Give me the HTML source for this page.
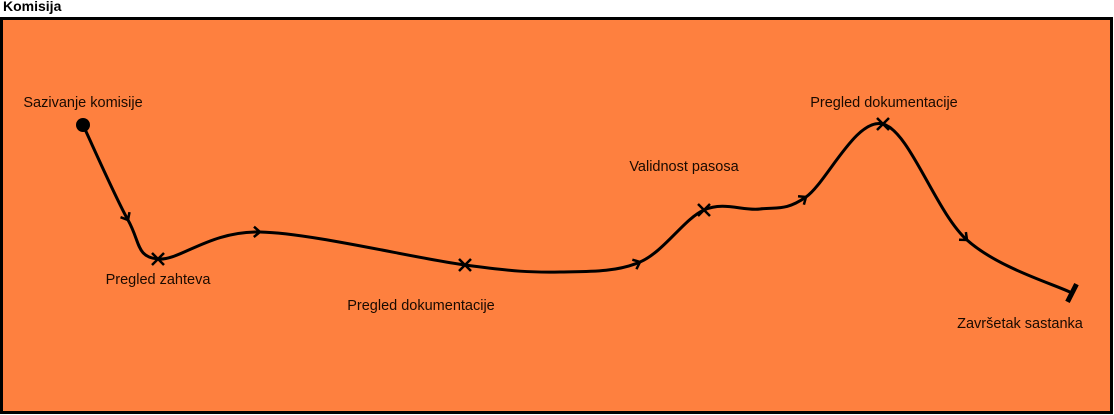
<!DOCTYPE html>
<html><head><meta charset="utf-8"><style>
body{margin:0;width:1114px;height:415px;background:#fff;overflow:hidden;font-family:"Liberation Sans",sans-serif}
#title{position:absolute;left:3px;top:-2px;font-weight:bold;font-size:14px}
svg{position:absolute;left:0;top:0}
</style></head><body>
<div id="title">Komisija</div>
<svg width="1114" height="415" id="chart">
<rect x="1.5" y="18.5" width="1110" height="394" fill="#fe803f" stroke="#000" stroke-width="3"/>
</svg>
<script>
const pathX=[83,128,158,260,465,560,640,704,760,806,883,967,1072];
const pathY=[125,220,259,232,265,272,262,210,209,197,124,240,293];
const arrowIdx=[1,3,6,9,11];
const crossIdx=[2,4,7,10];
const labels=["Sazivanje komisije","Pregled zahteva","Pregled dokumentacije","Validnost pasosa","Pregled dokumentacije","Završetak sastanka"];
const labelX=[83,158,421,684,884,1020];
const labelY=[107,284,310,171,107,328];
const svg=document.getElementById('chart');const NS='http://www.w3.org/2000/svg';
function mk(t,a){const e=document.createElementNS(NS,t);for(const k in a)e.setAttribute(k,a[k]);svg.appendChild(e);return e;}
let d='M'+pathX[0]+','+pathY[0];
for(let i=0;i<pathX.length-1;i++){
 const p0=[pathX[Math.max(i-1,0)],pathY[Math.max(i-1,0)]],p1=[pathX[i],pathY[i]],p2=[pathX[i+1],pathY[i+1]],p3=[pathX[Math.min(i+2,pathX.length-1)],pathY[Math.min(i+2,pathX.length-1)]];
 const c1=[p1[0]+(p2[0]-p0[0])/6,p1[1]+(p2[1]-p0[1])/6],c2=[p2[0]-(p3[0]-p1[0])/6,p2[1]-(p3[1]-p1[1])/6];
 d+=` C${c1[0]},${c1[1]} ${c2[0]},${c2[1]} ${p2[0]},${p2[1]}`;
}
const path=mk('path',{d:d,fill:'none',stroke:'#000','stroke-width':3});


function ang(i){const a=Math.max(i-1,0),b=Math.min(i+1,pathX.length-1);return Math.atan2(pathY[b]-pathY[a],pathX[b]-pathX[a]);}
arrowIdx.forEach(i=>{const t=ang(i),x=pathX[i],y=pathY[i],s=8;
 const e=mk('path',{d:`M${x-s*Math.cos(t-0.7)},${y-s*Math.sin(t-0.7)} L${x},${y} L${x-s*Math.cos(t+0.7)},${y-s*Math.sin(t+0.7)}`,fill:'none',stroke:'#000','stroke-width':2.5});
 
 });
crossIdx.forEach(i=>{const x=pathX[i],y=pathY[i],s=6;
 const e=mk('path',{d:`M${x-s},${y-s}L${x+s},${y+s}M${x+s},${y-s}L${x-s},${y+s}`,stroke:'#000','stroke-width':2.5});
 
 });
const st=mk('circle',{cx:pathX[0],cy:pathY[0],r:7,fill:'#000'});


const n=pathX.length-1,t=ang(n),ex=pathX[n],ey=pathY[n];
const en=mk('line',{x1:ex+10*Math.sin(t),y1:ey-10*Math.cos(t),x2:ex-10*Math.sin(t),y2:ey+10*Math.cos(t),stroke:'#000','stroke-width':5});


labels.forEach((l,i)=>{const e=mk('text',{x:labelX[i],y:labelY[i],'text-anchor':'middle','font-size':14.5,fill:'#1a0a00','font-family':'Liberation Sans, sans-serif'});e.textContent=l;
 
 });
</script>
</body></html>
